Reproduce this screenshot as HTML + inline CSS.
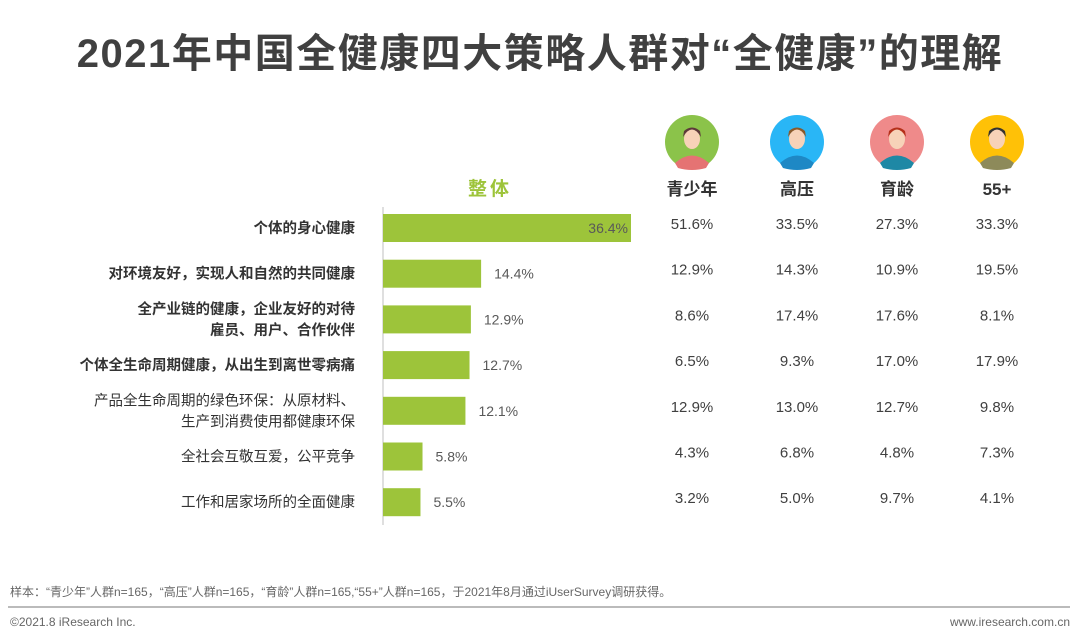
<!DOCTYPE html>
<html><head><meta charset="utf-8">
<style>
body{margin:0;width:1080px;height:644px;background:#fff;font-family:"Liberation Sans","Noto Sans CJK SC",sans-serif;overflow:hidden;position:relative}
.t{position:absolute;white-space:nowrap}
</style></head><body>
<div class="t" style="left:0;width:1080px;text-align:center;top:21px;font-size:40px;font-weight:bold;color:#404040;letter-spacing:1.5px">2021年中国全健康四大策略人群对“全健康”的理解</div>
<div class="t" style="left:468px;top:174px;font-size:19px;font-weight:bold;color:#9dc43a;letter-spacing:3px">整体</div>
<svg id="chart" width="1080" height="644" style="position:absolute;left:0;top:0"></svg>
<div class="t" style="left:10px;top:583px;font-size:12px;color:#666">样本：“青少年”人群n=165，“高压”人群n=165，“育龄”人群n=165,“55+”人群n=165，于2021年8月通过iUserSurvey调研获得。</div>
<div style="position:absolute;left:8px;top:606px;width:1062px;height:2px;background:#bbb"></div>
<div class="t" style="left:10px;top:615px;font-size:12px;color:#666">©2021.8 iResearch Inc.</div>
<div class="t" style="right:10px;top:615px;font-size:12px;color:#666">www.iresearch.com.cn</div>
<script>
const categories=[["个体的身心健康"],["对环境友好，实现人和自然的共同健康"],["全产业链的健康，企业友好的对待","雇员、用户、合作伙伴"],["个体全生命周期健康，从出生到离世零病痛"],["产品全生命周期的绿色环保：从原材料、","生产到消费使用都健康环保"],["全社会互敬互爱，公平竞争"],["工作和居家场所的全面健康"]];
const boldRows=[true,true,true,true,false,false,false];
const overall=[36.4,14.4,12.9,12.7,12.1,5.8,5.5];
const groups=["青少年","高压","育龄","55+"];
const youth=[51.6,12.9,8.6,6.5,12.9,4.3,3.2];
const pressure=[33.5,14.3,17.4,9.3,13.0,6.8,5.0];
const fertile=[27.3,10.9,17.6,17.0,12.7,4.8,9.7];
const senior=[33.3,19.5,8.1,17.9,9.8,7.3,4.1];
const groupVals=[youth,pressure,fertile,senior];
const NS="http://www.w3.org/2000/svg";
const svg=document.getElementById('chart');
const x0=383, pxPer=248/36.4;
const xScale=v=>x0+v*pxPer;
const rowY=i=>228+i*45.7;
const colX=[692,797,897,997];
const iconColors=[["#8bc34a","#e57373","#5d3a3a"],["#29b6f6","#1e88c5","#8a5a2b"],["#ef8a8a","#1e88a5","#b5301a"],["#ffc107","#8d8a5a","#333"]];
function mk(tag,attrs,parent){const e=document.createElementNS(NS,tag);for(const k in attrs)e.setAttribute(k,attrs[k]);(parent||svg).appendChild(e);return e;}
const ax=mk('line',{x1:x0,y1:207,x2:x0,y2:525,stroke:'#bfbfbf','stroke-width':1});


overall.forEach((v,i)=>{
  const cy=rowY(i);
  const r=mk('rect',{x:x0,y:cy-14,width:xScale(v)-x0,height:28,fill:'#9dc43a'});
  
  
  const inside=i===0;
  const t=mk('text',{x:inside?xScale(v)-3:xScale(v)+13,y:cy+5,'font-size':14,fill:'#595959','text-anchor':inside?'end':'start'});
  t.textContent=v.toFixed(1)+'%';
  
  
  const lines=categories[i];
  lines.forEach((ln,j)=>{
    const lt=mk('text',{x:355,y:cy+5+(j-(lines.length-1)/2)*21,'font-size':14.5,fill:'#333','text-anchor':'end','font-weight':boldRows[i]?'bold':'normal'});
    lt.textContent=ln;
    
    
  });
  groupVals.forEach((arr,g)=>{
    const gt=mk('text',{x:colX[g],y:cy+1,'font-size':15,fill:'#404040','text-anchor':'middle'});
    gt.textContent=arr[i].toFixed(1)+'%';
    
    
  });
});
groups.forEach((g,k)=>{
  const cx=colX[k], c=iconColors[k];
  const grp=mk('g',{});
  
  
  mk('circle',{cx:cx,cy:142,r:27,fill:c[0]},grp);
  mk('path',{d:`M${cx-17} ${163} Q${cx} ${148} ${cx+17} ${163} L${cx+14} ${168} Q${cx} ${172} ${cx-14} ${168}Z`,fill:c[1]},grp);
  mk('ellipse',{cx:cx,cy:139,rx:8,ry:10,fill:'#f7d2b8'},grp);
  mk('path',{d:`M${cx-9} ${137} Q${cx} ${122} ${cx+9} ${137} L${cx+8} ${131} Q${cx} ${124} ${cx-8} ${131}Z`,fill:c[2]},grp);
  const lt=mk('text',{x:cx,y:195,'font-size':17,'font-weight':'bold',fill:'#333','text-anchor':'middle'});
  lt.textContent=g;
  
  
});
</script>
</body></html>
